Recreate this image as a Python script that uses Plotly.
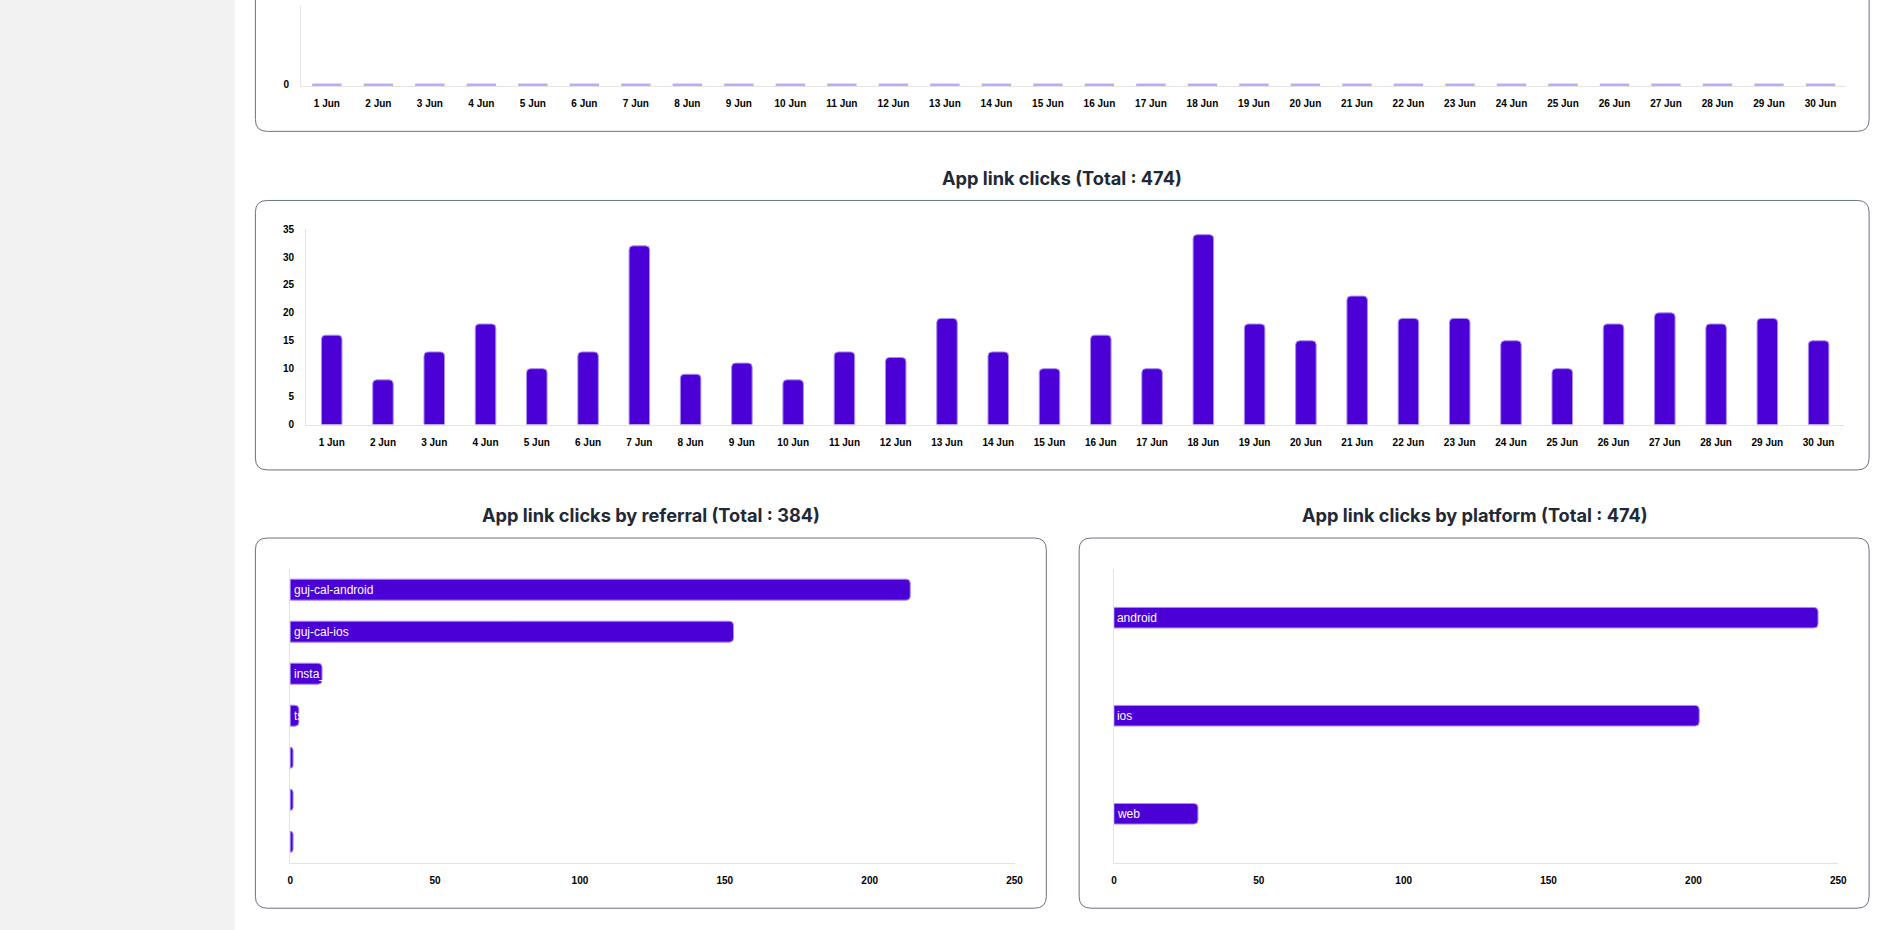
import plotly.graph_objects as go

W, H = 1895, 930

# ---------------- data ----------------
days = ["1 Jun", "2 Jun", "3 Jun", "4 Jun", "5 Jun", "6 Jun", "7 Jun", "8 Jun", "9 Jun", "10 Jun",
        "11 Jun", "12 Jun", "13 Jun", "14 Jun", "15 Jun", "16 Jun", "17 Jun", "18 Jun", "19 Jun", "20 Jun",
        "21 Jun", "22 Jun", "23 Jun", "24 Jun", "25 Jun", "26 Jun", "27 Jun", "28 Jun", "29 Jun", "30 Jun"]

top_values = [0, 0, 0, 0, 0, 0, 0, 0, 0, 0,
              0, 0, 0, 0, 0, 0, 0, 0, 0, 0,
              0, 0, 0, 0, 0, 0, 0, 0, 0, 0]

app_link_clicks = [16, 8, 13, 18, 10, 13, 32, 9, 11, 8,
                   13, 12, 19, 13, 10, 16, 10, 34, 18, 15,
                   23, 19, 19, 15, 10, 18, 20, 18, 19, 15]

referral_labels = ["guj-cal-android", "guj-cal-ios", "insta_", "ts", "", "", ""]
referral_clicks = [214, 153, 11, 3, 1, 1, 1]

platforms = ["android", "ios", "web"]
platform_clicks = [243, 202, 29]

middle_title = "App link clicks (Total : 474)"
referral_title = "App link clicks by referral (Total : 384)"
platform_title = "App link clicks by platform (Total : 474)"

# ---------------- style ----------------
BAR = "#4B00D6"
BAR_EDGE = "#A98EF2"
ZERO_BAR = "#C3A8F6"
AXIS_LINE = "#E3E3E3"
CARD = "#6B7280"
TITLE = "#1F2937"
TICKFONT = dict(family="Liberation Sans, Arial, sans-serif", size=10, color="#000000", weight="bold")
LABELFONT = dict(family="Liberation Sans, Arial, sans-serif", size=12, color="white")


def X(p):
    return p / W


def Y(p):
    return 1 - p / H


def rounded_rect(x0, y0, x1, y1, r):
    return (f"M {X(x0 + r)},{Y(y0)} L {X(x1 - r)},{Y(y0)} "
            f"Q {X(x1)},{Y(y0)} {X(x1)},{Y(y0 + r)} L {X(x1)},{Y(y1 - r)} "
            f"Q {X(x1)},{Y(y1)} {X(x1 - r)},{Y(y1)} L {X(x0 + r)},{Y(y1)} "
            f"Q {X(x0)},{Y(y1)} {X(x0)},{Y(y1 - r)} L {X(x0)},{Y(y0 + r)} "
            f"Q {X(x0)},{Y(y0)} {X(x0 + r)},{Y(y0)} Z")


fig = go.Figure()

# top chart (zero values, only the bar outline is visible)
fig.add_trace(go.Scatter(
    x=days, y=top_values, mode="markers", xaxis="x", yaxis="y",
    marker=dict(symbol="line-ew", size=21, line=dict(color=ZERO_BAR, width=2.5)),
    cliponaxis=False, hoverinfo="skip", showlegend=False))

# middle chart
fig.add_trace(go.Bar(
    x=days, y=app_link_clicks, xaxis="x2", yaxis="y2", width=0.4,
    marker=dict(color=BAR, line=dict(color=BAR_EDGE, width=1), cornerradius=4),
    hoverinfo="skip", showlegend=False))

# referral chart
referral_pos = list(range(len(referral_clicks)))
fig.add_trace(go.Bar(
    x=referral_clicks, y=referral_pos, orientation="h",
    xaxis="x3", yaxis="y3", width=0.5,
    marker=dict(color=BAR, line=dict(color=BAR_EDGE, width=1), cornerradius=4),
    hoverinfo="skip", showlegend=False))

# platform chart
fig.add_trace(go.Bar(
    x=platform_clicks, y=platforms, orientation="h",
    xaxis="x4", yaxis="y4", width=0.21,
    text=platforms, textposition="inside", insidetextanchor="start",
    textangle=0, constraintext="none", textfont=LABELFONT,
    marker=dict(color=BAR, line=dict(color=BAR_EDGE, width=1), cornerradius=4),
    hoverinfo="skip", showlegend=False))

common_x = dict(showgrid=False, zeroline=False, showline=True, linecolor=AXIS_LINE, linewidth=1,
                ticks="", tickfont=TICKFONT, ticklabelstandoff=8, fixedrange=True)
common_y = dict(showgrid=False, zeroline=False, showline=True, linecolor=AXIS_LINE, linewidth=1,
                ticks="", tickfont=TICKFONT, ticklabelstandoff=9, fixedrange=True)

shapes = [
    dict(type="rect", xref="paper", yref="paper", x0=-0.01, x1=X(233), y0=-0.02, y1=1.02,
         fillcolor="#F2F2F2", line=dict(width=0), layer="below"),
]
for (x0, y0, x1, y1) in [(254, -300, 1878, 127), (254, 197, 1878, 470),
                         (254, 539, 1050, 914), (1083, 539, 1878, 914)]:
    shapes.append(dict(type="path", xref="paper", yref="paper", path=rounded_rect(x0, y0, x1, y1, 12),
                       line=dict(color=CARD, width=1), fillcolor="rgba(0,0,0,0)", layer="below"))

title_font = dict(family="Inter, sans-serif", size=18.2, color=TITLE, weight="bold")
annotations = [
    dict(text=middle_title, x=X(1066), y=Y(174), xref="paper", yref="paper",
         showarrow=False, font=title_font, xanchor="center", yanchor="middle"),
    dict(text=referral_title, x=X(652), y=Y(516), xref="paper", yref="paper",
         showarrow=False, font=title_font, xanchor="center", yanchor="middle"),
    dict(text=platform_title, x=X(1481), y=Y(516), xref="paper", yref="paper",
         showarrow=False, font=title_font, xanchor="center", yanchor="middle"),
]
# referral labels: white text starting at the bar base; the part that runs past
# a short bar is white on white, so it looks clipped as in the original
for pos, label in zip(referral_pos, referral_labels):
    if label:
        annotations.append(dict(text=label, x=0, y=pos, xref="x3", yref="y3", showarrow=False,
                                xanchor="left", yanchor="middle", xshift=2, font=LABELFONT))

fig.update_layout(
    width=W, height=H, margin=dict(l=0, r=0, t=0, b=0),
    paper_bgcolor="white", plot_bgcolor="rgba(0,0,0,0)",
    showlegend=False, shapes=shapes, annotations=annotations,
    xaxis=dict(domain=[X(300), X(1855)], anchor="y", range=[-0.5, len(days) - 0.5], **common_x),
    yaxis=dict(domain=[Y(81), 1], anchor="x", range=[-0.015, 1], tickvals=[0], **common_y),
    xaxis2=dict(domain=[X(305), X(1853)], anchor="y2", **common_x),
    yaxis2=dict(domain=[Y(424), Y(226)], anchor="x2", range=[0, 35], dtick=5, **common_y),
    xaxis3=dict(domain=[X(289), X(1018)], anchor="y3", range=[0, 250], dtick=50, **common_x),
    yaxis3=dict(domain=[Y(868), Y(570)], anchor="x3", range=[len(referral_clicks) - 0.5, -0.5],
                showticklabels=False, **common_y),
    xaxis4=dict(domain=[X(1118), X(1847)], anchor="y4", range=[0, 250], dtick=50, **common_x),
    yaxis4=dict(domain=[Y(868), Y(570)], anchor="x4", autorange="reversed",
                showticklabels=False, **common_y),
)

fig.write_html("out.html", config={"displayModeBar": False},
               post_script="document.body.style.margin='0';document.body.style.overflow='hidden';"
                           "document.documentElement.style.overflow='hidden';")
